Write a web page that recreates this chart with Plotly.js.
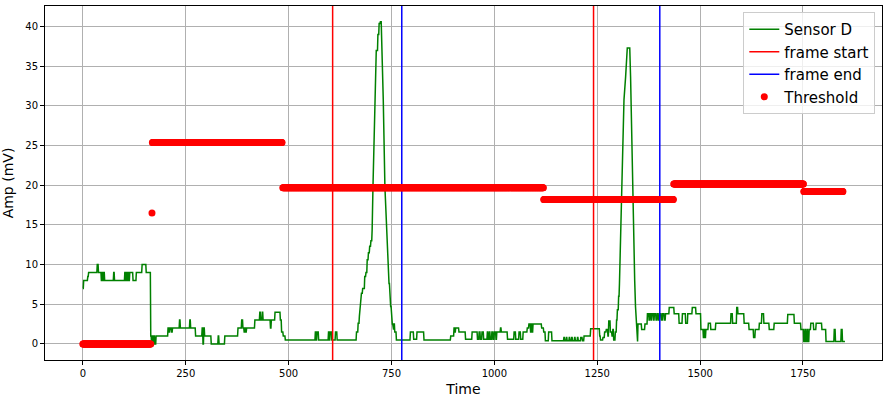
<!DOCTYPE html>
<html>
<head>
<meta charset="utf-8">
<script src="https://cdn.plot.ly/plotly-3.0.1.min.js"></script>
<style>
  body { margin: 0; background: #fff; }
  #plot { width: 889px; height: 402px; }
</style>
</head>
<body>
<div id="plot"></div>
<script>
// sensor trace as [time, amp] points
var sensorPts = [
  [0,7],[2,8],[12,8.5],[14,9],[35,10],[38,9],[45,8],[47,9],[49,8],[51,9],[53,8],[75,9],[77,8],
  [102,9],[104,8],[106,9],[108,8],[110,9],[112,8],[114,9],[122,8],[130,9],[144,10],[154,9],
  [165,1],[167,0],[169,1],[171,0],[173,1],[175,0],[178,1],[207,2],[210,1.5],[212,2],[216,1.5],[218,2],
  [235,3],[237,2],[260,3],[262,2],[274,1],[290,2],[292,0],[294,2],[296,1],[312,0],[329,1],[331,0],
  [345,1],[377,2],[386,3],[389,2],[392,1.5],[394,2],[396,1.5],[398,2],[418,3],[430,4],[432,3],[436,4],
  [438,3],[452,3],[456,2],[458,3],[467,4],[480,3],[483,1.5],[487,1],[492,0.5],
  [565,1.5],[567,0.5],[569,1.5],[573,0.5],[597,1.5],[599,0.5],[601,1.5],[605,0.5],[614,1.5],[618,0.5],
  [665,1.5],[669,2.6],[672,3.5],[677,6.4],[680,7],[685,8.5],[688,9],[691,10.6],[694,11.5],[697,12.3],
  [700,13],[703,14.4],[705,19.8],[709,30.8],[713,37],[717,39],[720,40.4],[723,40.6],[726,39.1],
  [730,30.8],[734,19.8],[739,13.1],[741,11],[744,7.6],[746,6],[748,4.7],[750,3],[752,2.5],[754,1.8],
  [756,2.5],[758,1.5],[762,0.5],
  [796,1.5],[804,0.6],[812,1.5],[829,0.5],[894,1],[902,2],[904,1.5],[906,2],[914,1.5],[930,0.6],
  [946,1.5],[959,0.6],[963,1.5],[966,0.6],[970,1.5],[974,0.6],[983,1.5],[985,0.6],[988,1.5],[990,0.6],
  [994,1.5],[997,0.6],[1000,1.5],[1004,0.6],[1006,1.5],[1015,2],[1017,1.5],[1032,0.6],[1048,1.5],
  [1052,0.6],[1060,1.5],[1064,0.6],[1070,1.5],[1080,2],[1084,2.5],[1088,1.5],[1090,2.5],[1092,1.5],
  [1094,2.5],[1115,2],[1120,1.5],[1124,0.4],[1132,1.5],[1140,0.4],
  [1169,0.8],[1171,0.4],[1175,0.8],[1177,0.4],[1182,0.8],[1184,0.4],[1188,0.8],[1190,0.4],[1195,0.8],
  [1197,0.4],[1202,0.8],[1204,0.4],[1210,0.8],[1214,0.4],[1218,1],[1234,1.9],[1256,1],[1258,0.5],
  [1264,0.8],[1268,1.5],[1272,1.8],[1276,1],[1278,2.9],[1282,1.5],[1286,1],[1288,1.8],[1290,0.5],
  [1294,1.5],[1297,3],[1299,4.3],[1302,6],[1304,7.6],[1306,12],[1308,18],[1312,25],[1315,30.8],
  [1319,33.7],[1323,37.3],[1329,37.3],[1331,33.7],[1334,24.5],[1337,17],[1339,11.8],[1341,8],
  [1343,4.7],[1345,2],[1347,0.3],
  [1349,2.5],[1358,1.8],[1366,2.5],[1372,3.8],[1376,3],[1378,3.8],[1381,3],[1383,3.8],[1387,3],
  [1389,3.8],[1393,3],[1396,3.8],[1399,3],[1402,3.8],[1406,3],[1409,3.8],[1413,3],[1416,3.8],
  [1425,4.6],[1437,3.8],[1449,2.6],[1457,3.8],[1465,2.6],[1470,3.8],[1481,4.6],[1490,3.8],
  [1502,1.8],[1508,0.8],[1510,1.8],[1512,0.8],[1514,1.8],[1520,2.6],[1526,1.8],[1538,2.6],[1575,3.8],
  [1579,2.6],[1589,4.6],[1592,3.8],[1607,2.6],[1619,1.8],[1630,0.8],[1634,1.8],[1644,2.6],[1650,3.8],
  [1655,2.6],[1668,1.8],[1680,2.6],[1713,3.7],[1729,2.6],[1745,1.8],[1752,0.3],[1755,1.8],[1757,0.3],
  [1760,1.8],[1762,0.3],[1765,1.8],[1769,2.6],[1776,1.8],[1782,2.6],[1796,1.8],[1806,0.3],[1826,1.8],
  [1829,0.3],[1843,1.8],[1846,0.3],[1852,0.3]
];

var frameStart = [607, 1241];
var frameEnd = [775, 1402];

// threshold steps: value held from start to end (one dot per time step)
var thrLevel = [0, 16.5, 25.4, 19.7, 18.2, 20.15, 19.2];
var thrStart = [0, 168, 169, 486, 1120, 1436, 1752];
var thrEnd   = [165, 168, 484, 1119, 1435, 1751, 1847];

var xTicks = [0, 250, 500, 750, 1000, 1250, 1500, 1750];
var yTicks = [0, 5, 10, 15, 20, 25, 30, 35, 40];
var xRange = [-92, 1942];
var yRange = [-2.03, 42.6];

// small jumps and long gaps are held flat until one sample before the change,
// steep short runs (the two pulses) are joined directly
var sensorX = [], sensorY = [];
sensorPts.forEach(function (p, i) {
  if (i > 0) {
    var prev = sensorPts[i - 1];
    var gap = p[0] - prev[0];
    if (gap > 1 && (gap > 5 || Math.abs(p[1] - prev[1]) < 2.5)) {
      sensorX.push(p[0] - 1);
      sensorY.push(prev[1]);
    }
  }
  sensorX.push(p[0]);
  sensorY.push(p[1]);
});

var thrX = [], thrY = [];
for (var i = 0; i < thrLevel.length; i++) {
  for (var t = thrStart[i]; t <= thrEnd[i]; t++) {
    thrX.push(t);
    thrY.push(thrLevel[i]);
  }
}

function vlines(xs) {
  var lx = [], ly = [];
  xs.forEach(function (v) {
    lx.push(v, v, null);
    ly.push(yRange[0], yRange[1], null);
  });
  return { x: lx, y: ly };
}

var fs = vlines(frameStart);
var fe = vlines(frameEnd);

var data = [
  {
    x: sensorX, y: sensorY, type: 'scatter', mode: 'lines', name: 'Sensor D',
    line: { color: '#008000', width: 1.5 }
  },
  {
    x: fs.x, y: fs.y, type: 'scatter', mode: 'lines', name: 'frame start',
    line: { color: '#ff0000', width: 1.5 }
  },
  {
    x: fe.x, y: fe.y, type: 'scatter', mode: 'lines', name: 'frame end',
    line: { color: '#0000ff', width: 1.5 }
  },
  {
    x: thrX, y: thrY, type: 'scatter', mode: 'markers', name: 'Threshold',
    marker: { color: '#ff0000', size: 7 }
  }
];

var axisCommon = {
  showline: true, mirror: true, linecolor: '#000', linewidth: 1,
  ticks: 'outside', ticklen: 4, tickcolor: '#000',
  showgrid: true, gridcolor: '#b0b0b0', gridwidth: 1,
  zeroline: false,
  tickfont: { family: 'DejaVu Sans, sans-serif', size: 10, color: '#000' }
};

var layout = {
  width: 889,
  height: 402,
  paper_bgcolor: '#fff',
  plot_bgcolor: '#fff',
  margin: { l: 45, r: 7, t: 6, b: 42 },
  showlegend: true,
  xaxis: Object.assign({}, axisCommon, {
    range: xRange, tickvals: xTicks, ticktext: xTicks.map(String),
    title: { text: 'Time', font: { family: 'DejaVu Sans, sans-serif', size: 14, color: '#000' }, standoff: 6 }
  }),
  yaxis: Object.assign({}, axisCommon, {
    range: yRange, tickvals: yTicks, ticktext: yTicks.map(String),
    title: { text: 'Amp (mV)', font: { family: 'DejaVu Sans, sans-serif', size: 14, color: '#000' }, standoff: 8 }
  }),
  legend: {
    x: 0.992, y: 0.983, xanchor: 'right', yanchor: 'top',
    bgcolor: 'rgba(255,255,255,0.8)', bordercolor: '#cccccc', borderwidth: 1,
    font: { family: 'DejaVu Sans, sans-serif', size: 15, color: '#000' },
    tracegroupgap: 0
  }
};

Plotly.newPlot('plot', data, layout, { displayModeBar: false, staticPlot: true });
</script>
</body>
</html>
